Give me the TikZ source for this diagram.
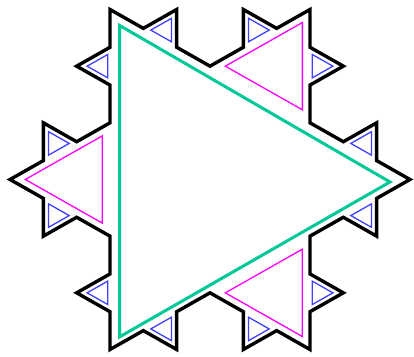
\documentclass[tikz,border=0pt]{standalone}
\usepackage{tikz}
\definecolor{kgreen}{RGB}{0,200,150}
\definecolor{kmag}{RGB}{255,0,255}
\definecolor{kblue}{RGB}{64,64,255}
% #1 style, #2 centre of the full-size bump, #3 heading of its base, #4 side, #5 inward shift
\newcommand\ktri[5]{\draw[#1] #2 ++(#3-90:#5) ++(#3+210:#4/1.7320508) -- ++(#3+60:#4) -- ++(#3-60:#4) -- cycle;}
\begin{document}
\begin{tikzpicture}[x=1pt,y=1pt,
  outline/.style={line width=3.4pt, black, line join=miter},
  gtri/.style={line width=3pt, kgreen},
  mtri/.style={line width=1.3pt, kmag},
  btri/.style={line width=1.3pt, kblue}]
\useasboundingbox (0,0) rectangle (414,356);
\begin{scope}[shift={(210,176.5)}, x=200pt, y=196.3pt]
  \coordinate (V1) at (-0.5,0.8660254);
  \coordinate (V0) at (1,0);
  \coordinate (V2) at (-0.5,-0.8660254);
  % green base triangle
  \coordinate (G1) at (-0.4525,0.785);
  \coordinate (G2) at (-0.4525,-0.802);
  \coordinate (G3) at (0.9,-0.0127);
  \draw[gtri] (G1) -- (G3) -- (G2) -- cycle;
  % Koch outline, level 2
  \draw[outline] (V1) \foreach \h in {-30,30,-90,-30, 30,90,-30,30, -90,-30,-150,-90, -30,30,-90,-30,
      -150,-90,-210,-150, -90,-30,-150,-90, -210,-150,-270,-210, -150,-90,-210,-150,
      90,150,30,90, 150,210,90,150, 30,90,-30,30, 90,150,30} {-- ++(\h:0.19245)} -- cycle;
  % magenta triangles
  \begin{scope}[xshift=-3pt, yshift=-1.5pt]
  \foreach \V/\H in {V1/-30, V0/-150, V2/90} {
    \ktri{mtri}{(\V) ++(\H:0.57735) ++(\H+30:0.33333)}{\H}{0.4446}{0}
  }
  \end{scope}
  % blue triangles
  \begin{scope}[xshift=-2pt, yshift=-2.5pt]
  \foreach \V/\H in {V1/-30, V0/-150, V2/90} {
    \ktri{btri}{(\V) ++(\H:0.19245) ++(\H+30:0.11111)}{\H}{0.1193}{0.01}
    \ktri{btri}{(\V) ++(\H:0.57735) ++(\H+60:0.19245) ++(\H+90:0.11111)}{\H+60}{0.1193}{0.01}
    \ktri{btri}{(\V) ++(\H:0.57735) ++(\H+60:0.57735) ++(\H-60:0.19245) ++(\H-30:0.11111)}{\H-60}{0.1193}{0.01}
    \ktri{btri}{(\V) ++(\H:0.57735) ++(\H+60:0.57735) ++(\H-60:0.57735) ++(\H:0.19245) ++(\H+30:0.11111)}{\H}{0.1193}{0.01}
  }
  \end{scope}
\end{scope}
\end{tikzpicture}
\end{document}
